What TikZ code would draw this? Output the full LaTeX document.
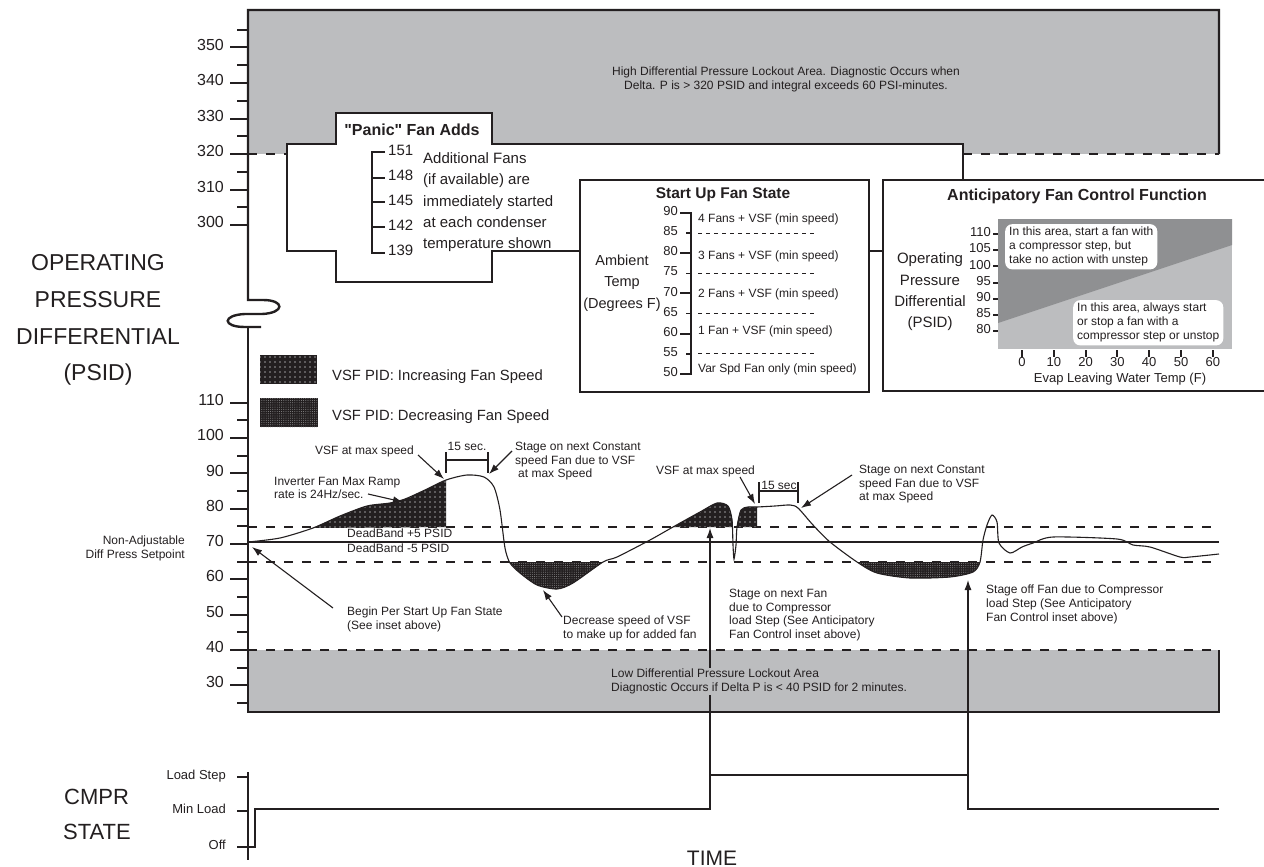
\documentclass[tikz,border=0pt]{standalone}
\usepackage{fontspec}
\setmainfont{Liberation Sans}[Ligatures=TeXOff]
\usetikzlibrary{arrows.meta,patterns.meta}
\definecolor{lgray}{HTML}{BCBDBF}
\definecolor{dgray}{HTML}{8F9092}
\definecolor{ink}{HTML}{231F20}
\definecolor{dotc}{HTML}{9A9A9A}
\begin{document}
\begin{tikzpicture}[x=1pt,y=-1pt,
  frame/.style={draw=ink,line width=2.4pt},
  tk/.style={draw=ink,line width=2pt},
  dashln/.style={draw=ink,line width=2.4pt,dash pattern=on 9pt off 9pt},
  thindash/.style={draw=ink,line width=0.8pt,dash pattern=on 4pt off 4pt},
  crv/.style={draw=ink,line width=1.1pt},
  arr/.style={draw=ink,line width=1.1pt,-{Latex[length=10pt,width=7pt]}},
  ann/.style={font=\fontsize{12}{13.8}\selectfont,align=left,inner sep=0pt,anchor=north west,text=ink},
  sm/.style={font=\fontsize{12}{14}\selectfont,inner sep=0pt,text=ink},
  ylab/.style={font=\fontsize{16}{18}\selectfont,anchor=mid east,inner sep=0pt,text=ink},
  big/.style={font=\fontsize{23}{36.7}\selectfont,align=center,inner sep=0pt,text=ink},
  mid15/.style={font=\fontsize{15}{21.2}\selectfont,inner sep=0pt,text=ink},
  ttl/.style={font=\bfseries\fontsize{16}{19}\selectfont,inner sep=0pt,text=ink},
  incr/.style={fill=ink,postaction={pattern={Dots[distance=5pt,radius=0.8pt]},pattern color=dotc}},
  decr/.style={fill=ink,postaction={pattern={Dots[distance=2.2pt,radius=0.45pt]},pattern color=dotc}}
]
\useasboundingbox (0,0) rectangle (1264,867);

% ---------- gray lockout areas ----------
\fill[lgray] (248,10) rectangle (1219,154);
\fill[white] (287,144) -- (336,144) -- (336,113) -- (492,113) -- (492,144) -- (963,144) -- (963,156) -- (287,156) -- cycle;
\fill[lgray] (248,650) rectangle (1219,712);
\node[font=\fontsize{12}{14}\selectfont,align=center,inner sep=0pt,anchor=north,text=ink] (hightxt) at (786,67)
  {High Differential Pressure Lockout Area. Diagnostic Occurs when\\Delta. P is > 320 PSID and integral exceeds 60 PSI-minutes.};

% dashed limit lines
\draw[dashln] (248,154) -- (287,154);
\draw[dashln] (963,154) -- (1219,154);
\draw[dashln] (248,650) -- (1219,650);
\draw[dashln] (248,527) -- (1219,527);
\draw[dashln] (248,562) -- (1219,562);
\draw[draw=ink,line width=2pt] (248,542) -- (1219,542);

% ---------- frame and axis ----------
\draw[frame] (1219,154) -- (1219,10) -- (248,10) -- (248,300) -- (263,300)
  .. controls (285,300) and (285,313) .. (262,314) -- (245,314)
  .. controls (222,315) and (222,327) .. (245,327) -- (261,327);
\draw[frame] (248,327) -- (248,712) -- (1219,712) -- (1219,650);

\foreach \v in {300,310,...,350}{
  \draw[tk] (230,{154-(\v-320)*3.55}) -- (248,{154-(\v-320)*3.55});
  \node[ylab] (ua\v) at (224,{154-(\v-320)*3.55}) {\v};}
\foreach \v in {305,315,...,355}{
  \draw[tk] (237,{154-(\v-320)*3.55}) -- (248,{154-(\v-320)*3.55});}
\foreach \v in {30,40,...,110}{
  \draw[tk] (230,{544-(\v-70)*3.53}) -- (248,{544-(\v-70)*3.53});
  \node[ylab] (la\v) at (224,{544-(\v-70)*3.53}) {\v};}
\foreach \v in {25,35,...,105}{
  \draw[tk] (237,{544-(\v-70)*3.53}) -- (248,{544-(\v-70)*3.53});}

% ---------- left titles ----------
\node[big] (optitle) at (98,320) {OPERATING\\PRESSURE\\DIFFERENTIAL\\(PSID)};
\node[sm,align=right,anchor=north east,font=\fontsize{12}{14}\selectfont] (setp) at (185,535.7) {Non-Adjustable\\Diff Press Setpoint};

% ---------- Panic fan adds box ----------
\draw[frame] (963,180) -- (963,144) -- (492,144) -- (492,113) -- (336,113) -- (336,144) -- (287,144)
  -- (287,251) -- (336,251) -- (336,282) -- (492,282) -- (492,251) -- (580,251);
\draw[frame] (869,251) -- (883,251);
\node[ttl] (panic) at (412,130) {"Panic" Fan Adds};
\draw[draw=ink,line width=1.5pt] (385,152) -- (372,152) -- (372,253) -- (385,253);
\foreach \t/\yy in {148/178,145/202,142/227}{\draw[draw=ink,line width=1.5pt] (372,\yy) -- (385,\yy);}
\foreach \t/\yy in {151/153,148/178,145/203,142/228,139/253}{
  \node[mid15,anchor=mid west] (pn\t) at (388,\yy) {\t};}
\node[mid15,align=left,anchor=north west] (panictxt) at (423,152.6)
  {Additional Fans\\(if available) are\\immediately started\\at each condenser\\temperature shown};

% ---------- Start Up Fan State box ----------
\draw[frame] (580,180) rectangle (869,392);
\node[ttl,font=\bfseries\fontsize{15.5}{19}\selectfont] (sutitle) at (723,195) {Start Up Fan State};
\node[mid15,align=center,font=\fontsize{14.5}{21.5}\selectfont] (amb) at (622,283) {Ambient\\Temp\\(Degrees F)};
\draw[draw=ink,line width=2pt] (680,213) -- (691,213) -- (691,374) -- (680,374);
\foreach \t in {70,60}{\draw[draw=ink,line width=2pt] (680,{374-(\t-50)*4.03}) -- (691,{374-(\t-50)*4.03});}
\draw[draw=ink,line width=2pt] (680,{374-30*4.03}) -- (691,{374-30*4.03});
\foreach \t in {85,75,65,55}{
  \draw[draw=ink,line width=1.5pt] (686,{374-(\t-50)*4.03}) -- (691,{374-(\t-50)*4.03});
  \draw[thindash] (698,{374-(\t-50)*4.03}) -- (815,{374-(\t-50)*4.03});}
\foreach \t in {90,85,...,50}{
  \node[sm,anchor=mid east,font=\fontsize{13}{15}\selectfont] (st\t) at (678,{374-(\t-50)*4.03}) {\t};}
\node[sm,anchor=mid west] (s4) at (698,220) {4 Fans + VSF (min speed)};
\node[sm,anchor=mid west] (s3) at (698,257) {3 Fans + VSF (min speed)};
\node[sm,anchor=mid west] (s2) at (698,295) {2 Fans + VSF (min speed)};
\node[sm,anchor=mid west] (s1) at (698,332) {1 Fan + VSF (min speed)};
\node[sm,anchor=mid west] (s0) at (698,370) {Var Spd Fan only (min speed)};

% ---------- Anticipatory box ----------
\draw[frame] (883,180) rectangle (1272,391);
\node[ttl] (antitle) at (1077,196) {Anticipatory Fan Control Function};
\fill[lgray] (998,219) rectangle (1232,349);
\fill[dgray] (998,219) -- (1232,219) -- (1232,245) -- (998,323) -- cycle;
\node[fill=white,rounded corners=7pt,inner xsep=4pt,inner ysep=3pt,align=left,anchor=north west,
  font=\fontsize{12}{14}\selectfont,text=ink] (box1) at (1005,224)
  {In this area, start a fan with\\a compressor step, but\\take no action with unstep};
\node[fill=white,rounded corners=7pt,inner xsep=4pt,inner ysep=3pt,align=left,anchor=north west,
  font=\fontsize{12}{14}\selectfont,text=ink] (box2) at (1073,300)
  {In this area, always start\\or stop a fan with a\\compressor step or unstop};
\foreach \v in {80,85,...,110}{
  \draw[draw=ink,line width=2pt] (993,{331-(\v-80)*3.23}) -- (998,{331-(\v-80)*3.23});
  \node[sm,anchor=mid east,font=\fontsize{13}{15}\selectfont] (ay\v) at (991,{331-(\v-80)*3.23}) {\v};}
\foreach \v in {0,10,...,60}{
  \draw[draw=ink,line width=2pt] ({1022+\v*3.18},350) -- ({1022+\v*3.18},357);
  \node[sm,anchor=mid,font=\fontsize{13}{15}\selectfont] (ax\v) at ({1022+\v*3.18},364) {\v};}
\node[sm,font=\fontsize{13}{15}\selectfont] (evap) at (1120,379) {Evap Leaving Water Temp (F)};
\node[mid15,align=center,font=\fontsize{15}{21.3}\selectfont] (opd) at (930,292) {Operating\\Pressure\\Differential\\(PSID)};

% ---------- legend ----------
\path[incr] (260,355) rectangle (317,384);
\path[decr] (260,398) rectangle (318,427);
\node[mid15,anchor=mid west,font=\fontsize{14.8}{17}\selectfont] (leg1) at (332,378) {VSF PID: Increasing Fan Speed};
\node[mid15,anchor=mid west,font=\fontsize{14.8}{17}\selectfont] (leg2) at (332,418) {VSF PID: Decreasing Fan Speed};

% ---------- shaded PID regions ----------
\path[incr] plot[smooth,tension=0.5] coordinates {(313,528) (340,516) (367,506) (390,503) (405,499) (425,490) (446,480)} -- (446,527) -- cycle;
\path[decr] plot[smooth,tension=0.5] coordinates {(507,562) (510,563) (520,573) (537,585) (557,589) (573,583) (603,562)} -- cycle;
\path[incr] plot[smooth,tension=0.5] coordinates {(673,527) (700,512) (717,503) (728,506) (732,518) (733,527)} -- cycle;
\path[incr] plot[smooth,tension=0.5] coordinates {(737,527) (738,520) (741,510) (748,507) (757,507)} -- (757,527) -- cycle;
\path[decr] plot[smooth,tension=0.5] coordinates {(857,562) (877,573) (910,578) (950,577) (973,572) (980,562)} -- cycle;

% ---------- pressure curve ----------
\draw[crv] plot[smooth,tension=0.45] coordinates {(248,542) (280,538) (313,528) (340,516) (367,506) (390,503) (405,499) (425,490) (446,480) (467,475) (484,477) (494,487) (500,510) (505,548) (510,563) (520,573) (537,585) (557,589) (573,583) (603,562) (617,557) (650,540) (673,527) (700,512) (717,503) (728,506) (732,520) (733,545) (734,559) (736,545) (737,527) (741,510) (748,507) (757,507) (775,506) (790,505) (798,508) (813,525) (830,542) (857,562) (877,573) (910,578) (950,577) (973,572) (980,562) (983,540) (987,525) (992,515) (997,522) (999,543) (1010,553) (1022,547) (1033,543) (1053,537) (1117,539) (1133,545) (1150,547) (1180,557) (1190,557) (1219,554)};

\node[sm,anchor=mid west] (db1) at (347,535) {DeadBand +5 PSID};
\node[sm,anchor=mid west] (db2) at (347,550) {DeadBand -5 PSID};

% ---------- 15 sec brackets ----------
\draw[draw=ink,line width=1.2pt] (446,452) -- (446,473) (446,460) -- (488,460) (488,452) -- (488,473);
\node[sm] (fif1) at (467,446) {15 sec.};
\draw[draw=ink,line width=1.2pt] (759,482) -- (759,503) (759,491) -- (798,491) (798,482) -- (798,503);
\node[sm] (fif2) at (779,485) {15 sec};

% ---------- annotations ----------
\node[sm,anchor=mid east] (vmax1) at (414,452) {VSF at max speed};
\coordinate (t1) at (444,479); \coordinate (f1) at (418,455);
\draw[arr] (f1) -- (t1);

\node[ann] (stg1) at (515,441.7) {Stage on next Constant\\speed Fan due to VSF\\\hspace{3pt}at max Speed};
\coordinate (t2) at (489,474); \coordinate (f2) at (512,451);
\draw[arr] (f2) -- (t2);

\node[ann] (inv) at (274,476.7) {Inverter Fan Max Ramp\\rate is 24Hz/sec.};
\coordinate (t3) at (403,502); \coordinate (f3) at (368,494);
\draw[arr] (f3) -- (t3);

\node[ann] (begin) at (347,606.7) {Begin Per Start Up Fan State\\(See inset above)};
\coordinate (t4) at (252,547); \coordinate (f4) at (333,608);
\draw[arr] (f4) -- (t4);

\node[ann] (decr) at (563,615.7) {Decrease speed of VSF\\to make up for added fan};
\coordinate (t5) at (543,590); \coordinate (f5) at (562,617);
\draw[arr] (f5) -- (t5);

\node[sm,anchor=mid west] (vmax2) at (656,472) {VSF at max speed};
\coordinate (t6) at (755,504); \coordinate (f6) at (740,477);
\draw[arr] (f6) -- (t6);

\node[ann] (stg2) at (859,464.7) {Stage on next Constant\\speed Fan due to VSF\\at max Speed};
\coordinate (t7) at (801,508); \coordinate (f7) at (852,475);
\draw[arr] (f7) -- (t7);

\node[ann] (stgfan) at (729,588.7) {Stage on next Fan\\due to Compressor\\load Step (See Anticipatory\\Fan Control inset above)};
\node[ann] (stgoff) at (986,584.7) {Stage off Fan due to Compressor\\load Step (See Anticipatory\\Fan Control inset above)};

% ---------- compressor state ----------
\coordinate (c1) at (710,775); \coordinate (c1t) at (710,528);
\coordinate (c2) at (968,775); \coordinate (c2t) at (968,580);
\draw[arr] (c1) -- (c1t);
\draw[arr] (c2) -- (c2t);
\node[ann,fill=lgray,inner sep=1pt] (lowtxt) at (610,667.7) {Low Differential Pressure Lockout Area\\Diagnostic Occurs if Delta P is < 40 PSID for 2 minutes.};

\draw[tk] (248,772) -- (248,860);
\draw[tk] (237,777) -- (248,777);
\draw[tk] (237,811) -- (248,811);
\draw[tk] (237,847) -- (250,847);
\node[sm,anchor=mid east,font=\fontsize{13}{15}\selectfont] (lls) at (226,777) {Load Step};
\node[sm,anchor=mid east,font=\fontsize{13}{15}\selectfont] (lml) at (226,811) {Min Load};
\node[sm,anchor=mid east,font=\fontsize{13}{15}\selectfont] (loff) at (226,847) {Off};
\draw[draw=ink,line width=1.8pt] (248,847) -- (255,847) -- (255,809) -- (710,809) -- (710,775) -- (968,775) -- (968,809) -- (1219,809);
\node[big,align=left,font=\fontsize{22}{35}\selectfont] (cmpr) at (97,814) {\hspace{1pt}CMPR\\STATE};
\node[big,anchor=base,font=\fontsize{21}{25}\selectfont] (time) at (712,865) {TIME};
\end{tikzpicture}
\end{document}
